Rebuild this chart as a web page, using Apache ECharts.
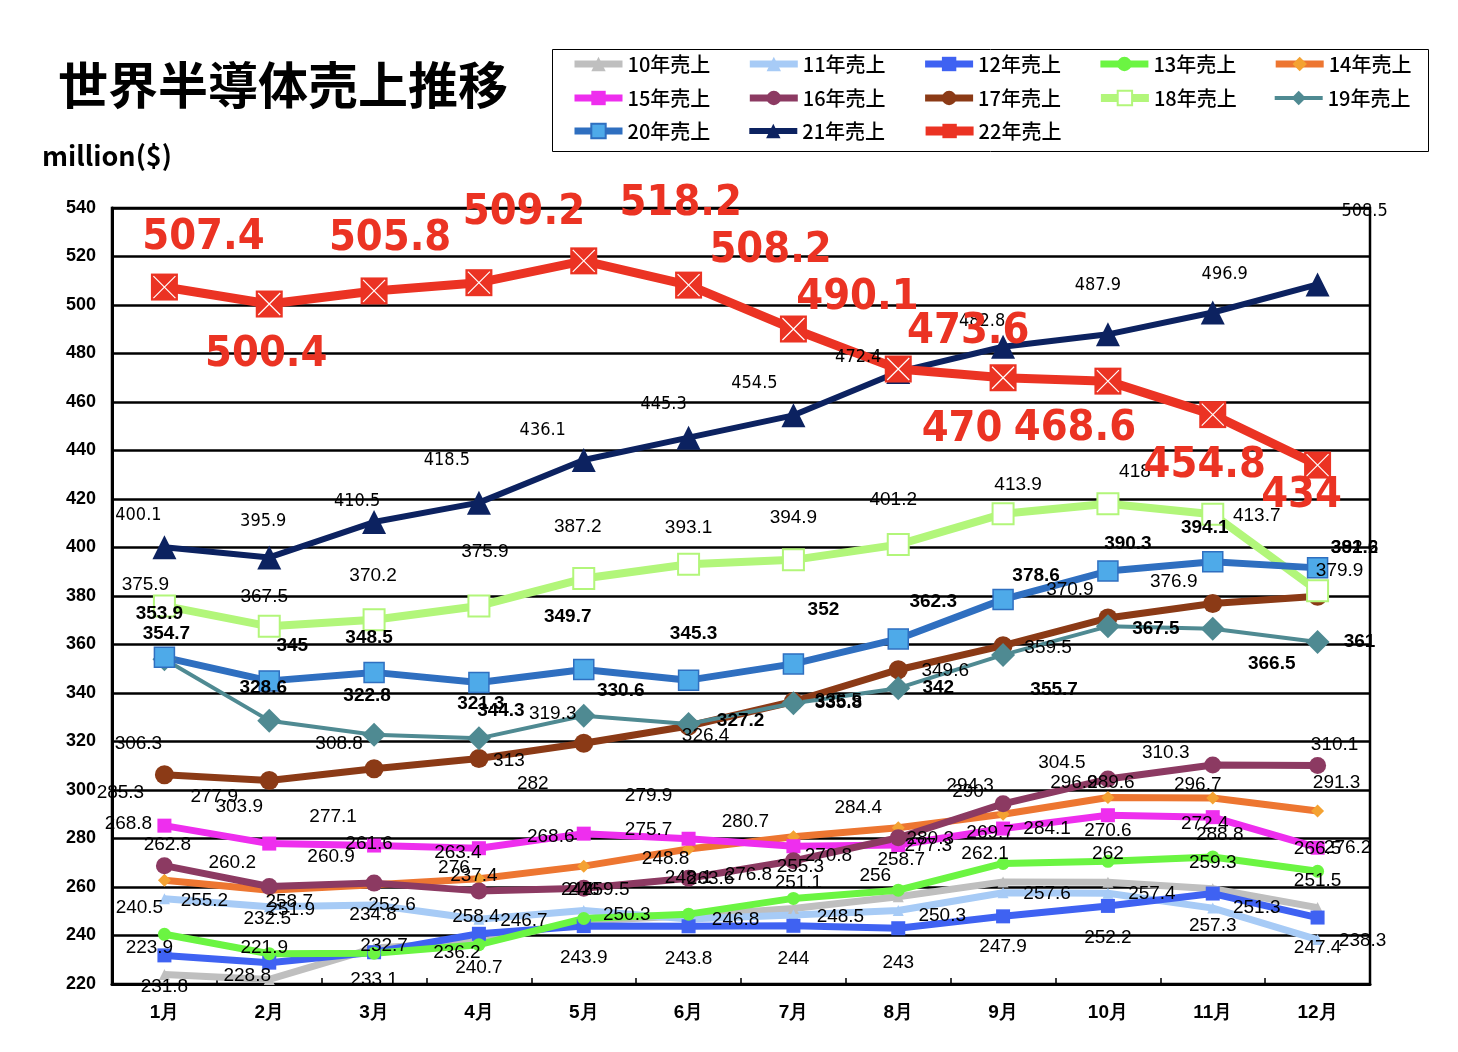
<!DOCTYPE html>
<html>
<head>
<meta charset="utf-8">
<script src="https://cdn.jsdelivr.net/npm/echarts@6/dist/echarts.min.js"></script>
<style>
html,body{margin:0;padding:0;background:#fff;}
#chart{width:1458px;height:1052px;}
</style>
</head>
<body>
<div id="chart"></div>
<script>
// ---- data ----
const months = ['1月','2月','3月','4月','5月','6月','7月','8月','9月','10月','11月','12月'];
const yTicks = [220,240,260,280,300,320,340,360,380,400,420,440,460,480,500,520,540];

const sales10 = [223.9,221.9,234.8,237.4,246.0,248.1,251.1,256,262.1,262,259.3,251.5];
const sales11 = [255.2,251.9,252.6,246.7,250.3,246.8,248.5,250.3,257.6,257.4,251.3,238.3];
const sales12 = [231.8,228.8,233.1,240.7,243.9,243.8,244,243,247.9,252.2,257.3,247.4];
const sales13 = [240.5,232.5,232.7,236.2,247,248.8,255.3,258.7,269.7,270.6,272.4,266.5];
const sales14 = [262.8,258.7,260.9,263.4,268.6,275.7,280.7,284.4,290,296.9,296.7,291.3];
const sales15 = [285.3,277.9,277.1,276.0,282,279.9,276.8,277.3,284.1,289.6,288.8,276.2];
const sales16 = [268.8,260.2,261.6,258.4,259.5,263.6,270.8,280.3,294.3,304.5,310.3,310.1];
const sales17 = [306.3,303.9,308.8,313.0,319.3,326.4,336.5,349.6,359.5,370.9,376.9,379.9];
const sales18 = [375.9,367.5,370.2,375.9,387.2,393.1,394.9,401.2,413.9,418.0,413.7,382.2];
const sales19 = [353.9,328.6,322.8,321.3,330.6,327.2,335.8,342,355.7,367.5,366.5,361];
const sales20 = [354.7,345,348.5,344.3,349.7,345.3,352,362.3,378.6,390.3,394.1,391.6];
const sales21 = [400.1,395.9,410.5,418.5,436.1,445.3,454.5,472.4,482.8,487.9,496.9,508.5];
const sales22 = [507.4,500.4,505.8,509.2,518.2,508.2,490.1,473.6,470,468.6,454.8,434];

// ---- label offsets (style only, px relative to point) ----
const off10 = [[-15,-27],[-5,-32],[-1,-33],[-5,-66],[0,-31],[0,-38],[5,-26],[-23,-21],[-18,-28],[0,-28],[0,-26],[0,-27]];
const off11 = [[40,2],[22,3],[18,0],[45,2],[43,4],[47,1],[47,2],[44,5],[44,1],[44,0],[44,0],[45,1]];
const off12 = [[0,31],[-22,13],[0,28],[0,34],[0,32],[0,32],[0,33],[0,35],[0,30],[0,32],[0,32],[0,30]];
const off13 = [[-25,-27],[-2,-35],[10,-7],[-22,8],[-7,-29],[-23,-55],[7,-32],[3,-30],[-13,-31],[0,-31],[-8,-33],[0,-22]];
const off14 = [[3,-35],[20,12],[-43,-28],[-21,-26],[-33,-29],[-40,-19],[-48,-15],[-40,-20],[-35,-22],[-34,-15],[-15,-13],[19,-28]];
const off15 = [[-44,-33],[-55,-47],[-41,-29],[-25,20],[-51,-50],[-40,-43],[-45,29],[30,1],[44,0],[3,-32],[7,18],[30,0]];
const off16 = [[-36,-42],[-37,-24],[-5,-39],[-3,26],[22,2],[22,0],[35,-5],[32,1],[-33,-18],[-46,-16],[-47,-12],[17,-21]];
const off17 = [[-26,-31],[-30,26],[-35,-25],[30,2],[-31,-29],[17,10],[45,-1],[47,1],[45,2],[-38,-28],[-39,-22],[22,-25]];
const off18 = [[-19,-21],[-5,-30],[-1,-44],[6,-54],[-6,-52],[0,-36],[0,-42],[-5,-45],[15,-29],[27,-32],[44,1],[37,-43]];
const off19 = [[-5,-46],[-6,-33],[-7,-39],[2,-35],[37,-25],[52,-3],[45,0],[40,0],[51,35],[48,2],[59,35],[42,0]];
const off20 = [[2,-24],[23,-35],[-5,-35],[22,28],[-16,-53],[5,-46],[30,-54],[35,-37],[33,-24],[20,-27],[-8,-34],[37,-20]];
const off21 = [[-26,-32],[-6,-36],[-17,-21],[-32,-42],[-41,-30],[-25,-33],[-39,-32],[-40,-15],[-21,-25],[-10,-49],[12,-38],[47,-73]];
const off22 = [[39,-49],[-3,51],[16,-52],[45,-70],[97,-57],[82,-34],[64,-31],[70,-37],[-41,52],[-33,48],[-8,51],[-16,31]];

const NUM = "'Liberation Sans', Arial, sans-serif";
const NARROW = "'Liberation Sans Narrow', 'DejaVu Sans Condensed', 'Liberation Sans', sans-serif";
const JP = "'Noto Sans CJK JP', 'Noto Sans', sans-serif";

const defs = [
  {name:'10年売上', d:sales10, off:off10, color:'#BFBFBF', w:7, sym:'triangle', size:11},
  {name:'11年売上', d:sales11, off:off11, color:'#A7CBF6', w:7, sym:'triangle', size:11},
  {name:'12年売上', d:sales12, off:off12, color:'#3F62F2', w:7, sym:'rect', size:14},
  {name:'13年売上', d:sales13, off:off13, color:'#6BF542', w:7, sym:'circle', size:13},
  {name:'14年売上', d:sales14, off:off14, color:'#ED7631', w:7, sym:'diamond', size:13, mcolor:'#F4A232'},
  {name:'15年売上', d:sales15, off:off15, color:'#EE2EEE', w:7, sym:'rect', size:14},
  {name:'16年売上', d:sales16, off:off16, color:'#8C3A62', w:7, sym:'circle', size:17},
  {name:'17年売上', d:sales17, off:off17, color:'#8B3A16', w:7, sym:'circle', size:19},
  {name:'18年売上', d:sales18, off:off18, color:'#B2F67A', w:8, sym:'rect', size:21, mcolor:'#ffffff', bcolor:'#B2F67A', bw:2},
  {name:'19年売上', d:sales19, off:off19, color:'#4F8A92', w:4, sym:'diamond', size:24, bold:true},
  {name:'20年売上', d:sales20, off:off20, color:'#2F6FC0', w:7, sym:'rect', size:20, mcolor:'#4EAAE9', bcolor:'#2F6FC0', bw:1.5, bold:true},
  {name:'21年売上', d:sales21, off:off21, color:'#0C2260', w:6, sym:'triangle', size:24, font:NARROW, fs:18},
  {name:'22年売上', d:sales22, off:off22, color:'#EB3323', w:9, sym:'rect', size:27, font:NARROW, fs:43, bold:true, lcolor:'#EB3323'}
];

const series = defs.map(s => ({
  name: s.name,
  type: 'line',
  data: s.d.map((v,i) => ({value: v, label: {offset: s.off[i]}})),
  symbol: s.sym,
  symbolSize: s.size,
  showAllSymbol: true,
  lineStyle: {color: s.color, width: s.w},
  itemStyle: {color: s.mcolor || s.color, borderColor: s.bcolor || s.mcolor || s.color, borderWidth: s.bw || 0},
  label: {
    show: true,
    position: 'inside',
    align: 'center',
    verticalAlign: 'middle',
    color: s.lcolor || '#000',
    fontFamily: s.font || NUM,
    fontSize: s.fs || 19,
    fontWeight: s.bold ? 'bold' : 'normal'
  },
  emphasis: {disabled: true},
  z: 2
}));

// white X over the 22 markers
series.push({
  name: '22年売上',
  type: 'line',
  data: sales22,
  symbol: 'path://M0,0L10,10M10,0L0,10',
  symbolSize: 22,
  showAllSymbol: true,
  lineStyle: {width: 0, opacity: 0},
  itemStyle: {color: 'rgba(0,0,0,0)', borderColor: '#ffffff', borderWidth: 1.2},
  label: {show: false},
  emphasis: {disabled: true},
  z: 3
});

const legendBase = {
  orient: 'horizontal',
  padding: 0,
  itemWidth: 48,
  itemHeight: 18,
  itemGap: 36,
  lineStyle: {width: 'inherit'},
  textStyle: {fontFamily: JP, fontSize: 20, color: '#000', fontWeight: 500},
  selectedMode: false
};

const option = {
  animation: false,
  backgroundColor: '#ffffff',
  title: {
    text: '世界半導体売上推移',
    left: 53, top: 55,
    textStyle: {fontFamily: JP, fontSize: 50, fontWeight: 'bold', color: '#000'}
  },
  graphic: [
    {type:'text', left: 42, top: 142, style: {text: 'million($)', fontFamily: JP, fontSize: 27, fontWeight: 'bold', fill: '#000'}},
    {type:'rect', left: 550, top: 47, shape: {width: 876, height: 102}, style: {fill: 'none', stroke: '#000', lineWidth: 1}}
  ],
  legend: [
    Object.assign({}, legendBase, {left: 571, top: 54, data: defs.slice(0,5).map(d=>d.name)}),
    Object.assign({}, legendBase, {left: 571, top: 88, data: defs.slice(5,10).map(d=>d.name)}),
    Object.assign({}, legendBase, {left: 571, top: 121, data: defs.slice(10,13).map(d=>d.name)})
  ],
  grid: {left: 112, right: 88, top: 208, bottom: 68, show: true, borderColor: '#000', borderWidth: 2.5, backgroundColor: 'rgba(0,0,0,0)'},
  xAxis: {
    type: 'category',
    data: months,
    boundaryGap: true,
    axisLine: {lineStyle: {color: '#000', width: 3}},
    axisTick: {show: true, inside: true, length: 6, lineStyle: {color: '#000', width: 1.5}},
    axisLabel: {fontFamily: NUM, fontSize: 19, fontWeight: 'bold', color: '#000', margin: 19}
  },
  yAxis: {
    type: 'value',
    min: yTicks[0],
    max: yTicks[yTicks.length-1],
    interval: yTicks[1]-yTicks[0],
    axisLine: {show: true, lineStyle: {color: '#000', width: 3}},
    axisTick: {show: false},
    splitLine: {lineStyle: {color: '#000', width: 2.5}},
    axisLabel: {fontFamily: NUM, fontSize: 18, fontWeight: 'bold', color: '#000', margin: 16}
  },
  series: series
};

const chart = echarts.init(document.getElementById('chart'), null, {renderer: 'canvas'});
chart.setOption(option);
</script>
</body>
</html>
